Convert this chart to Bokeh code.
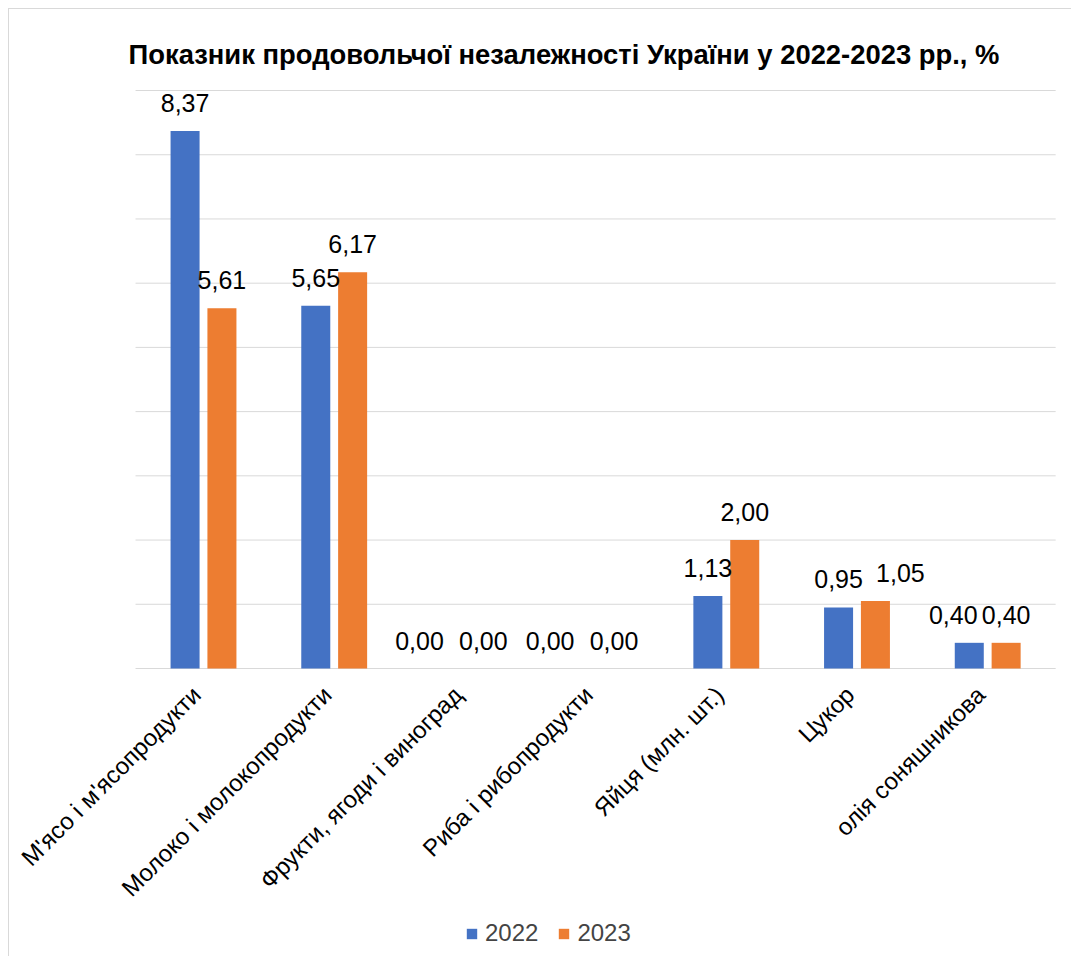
import math
from bokeh.plotting import figure
from bokeh.models import (ColumnDataSource, LabelSet, Label, Legend, LegendItem, Range1d)
from bokeh.transform import dodge
from bokeh.core.properties import value
from bokeh.embed import file_html
from bokeh.resources import INLINE

# ---- data ----
categories = ["М'ясо і м'ясопродукти", "Молоко і молокопродукти", "Фрукти, ягоди і виноград",
              "Риба і рибопродукти", "Яйця (млн. шт.)", "Цукор", "олія соняшникова"]
values_2022 = [8.37, 5.65, 0.00, 0.00, 1.13, 0.95, 0.40]
values_2023 = [5.61, 6.17, 0.00, 0.00, 2.00, 1.05, 0.40]
series = ["2022", "2023"]
colors = ["#4472C4", "#ED7D31"]
grid_ticks = [0, 1, 2, 3, 4, 5, 6, 7, 8, 9]

title = "Показник продовольчої незалежності України у 2022-2023 рр., %"
FONT = "Liberation Sans"

# label de-overlap shifts (styling, px)
shift_2022 = [0, 0, -27, -27, 0, 0, -16]
shift_2023 = [0, 0, 0, 0, 0, 25, 0]

def fmt(v):
    return f"{v:.2f}".replace(".", ",")

n = len(categories)
pos = list(range(n))  # category slots on the x scale

src = ColumnDataSource(dict(
    x=pos,
    cat=categories,
    base=[0] * n,
    v22=values_2022,
    v23=values_2023,
    t22=[fmt(v) for v in values_2022],
    t23=[fmt(v) for v in values_2023],
    s22=shift_2022,
    s23=shift_2023,
))
grid_src = ColumnDataSource(dict(y=grid_ticks,
                                 x0=[-0.5] * len(grid_ticks),
                                 x1=[n - 0.5] * len(grid_ticks)))

# one frame covering the whole chart (px per category ~130.7, px per unit ~64.2)
FW, FH = 1062, 947
cat_px, unit_px = 130.7, 64.22
x_start = -194 / cat_px
y_start = -288 / unit_px
p = figure(x_range=Range1d(x_start, x_start + FW / cat_px),
           y_range=Range1d(y_start, y_start + FH / unit_px),
           frame_width=FW, frame_height=FH, output_backend="svg", toolbar_location=None,
           min_border_left=0, min_border_right=0, min_border_top=0, min_border_bottom=0)
p.xaxis.visible = False
p.yaxis.visible = False
p.xgrid.grid_line_color = None
p.ygrid.grid_line_color = None
p.outline_line_color = None

# gridlines across the category span
p.segment(x0=dodge("x0", -0.02), x1=dodge("x1", 0.02), y0="y", y1="y", source=grid_src,
          line_color="#d9d9d9", line_width=1)

off = 0.141
bw = 0.222
r1 = p.vbar(x=dodge("x", -off), top="v22", width=bw, source=src,
            fill_color=colors[0], line_color=None)
r2 = p.vbar(x=dodge("x", off), top="v23", width=bw, source=src,
            fill_color=colors[1], line_color=None)

lab_kw = dict(text_font_size="25px", text_font=value(FONT), text_color="#000000",
              text_align="center", text_baseline="bottom", y_offset=19)
p.add_layout(LabelSet(x=dodge("x", -off), y="v22", text="t22",
                      x_offset="s22", source=src, **lab_kw))
p.add_layout(LabelSet(x=dodge("x", off), y="v23", text="t23",
                      x_offset="s23", source=src, **lab_kw))

# category labels, rotated 45 degrees, ending just below the zero line
p.add_layout(LabelSet(x="x", y="base", text="cat", source=src,
                      angle=math.pi / 4, text_align="right", text_baseline="middle",
                      x_offset=-7, y_offset=-22,
                      text_font=value(FONT), text_font_size="24px", text_color="#000000"))

# title
p.add_layout(Label(x=119, y=902, x_units="screen", y_units="screen", text=title,
                   text_font=FONT, text_font_size="27.4px", text_font_style="bold",
                   text_color="#000000", text_align="left", text_baseline="alphabetic"))

legend = Legend(items=[LegendItem(label=series[0], renderers=[r1]),
                       LegendItem(label=series[1], renderers=[r2])],
                orientation="horizontal", location=(456, 9),
                glyph_width=13, glyph_height=13, label_standoff=7, spacing=19,
                label_text_font=FONT, label_text_font_size="24px",
                border_line_color=None, background_fill_alpha=0, margin=0, padding=8)
p.add_layout(legend, "center")

p.styles = {"margin-left": "8px", "margin-top": "8px",
            "border-left": "1px solid #d9d9d9", "border-top": "1px solid #d9d9d9"}

open("out.html", "w").write(file_html(p, INLINE))
